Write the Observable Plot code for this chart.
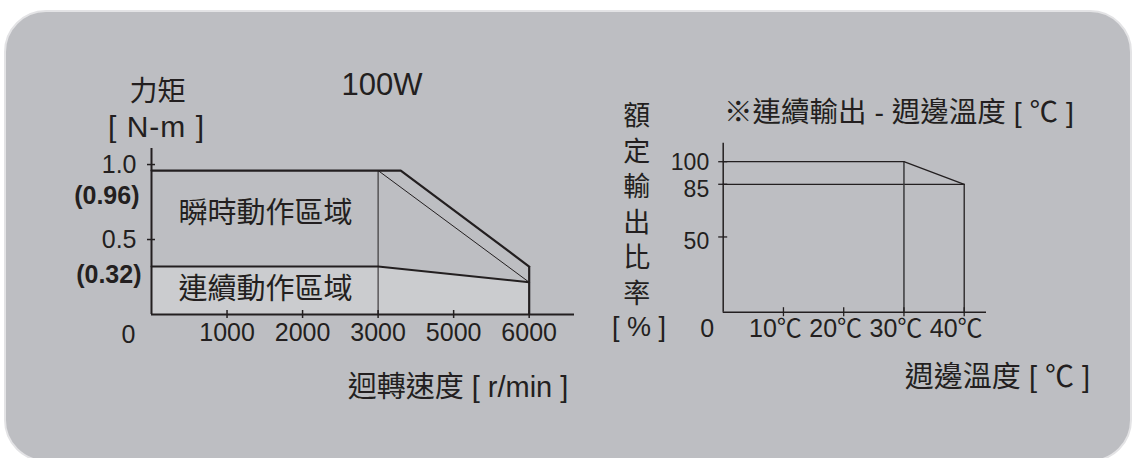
<!DOCTYPE html>
<html>
<head>
<meta charset="utf-8">
<script src="https://cdn.jsdelivr.net/npm/d3@7"></script>
<script src="https://cdn.jsdelivr.net/npm/@observablehq/plot@0.6"></script>
<style>
  body { margin: 0; background: #ffffff; }
  #wrap { position: relative; width: 1133px; height: 458px; overflow: hidden;
          font-family: "Liberation Sans", Arial, "Noto Sans CJK TC", sans-serif; color: #231f20; }
  #panel { position: absolute; left: 4px; top: 10px; width: 1128px; height: 452px; box-sizing: border-box;
           border: 2px solid #e3e3e5; border-radius: 42px; background: #bdbec2; }
  .plot { position: absolute; left: 0; top: 0; }
  .lbl { position: absolute; white-space: nowrap; line-height: 1; transform: translate(-50%, -50%); }
</style>
</head>
<body>
<div id="wrap"><div id="panel"></div></div>
<script>
// ---------- left chart: torque vs speed ----------
const rpmAxisSteps   = [0, 1000, 2000, 3000, 5000, 6000];   // equally spaced on the drawn axis
const rpmTickValues  = [1000, 2000, 3000, 5000, 6000];
const rpmTickLabels  = ["1000", "2000", "3000", "5000", "6000"];
const torqueTickValues = [1.0, 0.5];
const torqueTickLabels = ["1.0", "0.5"];
const peakRpm    = [0, 3600, 6000];
const peakTorque = [0.96, 0.96, 0.32];
const contRpm    = [0, 3000, 6000];
const contTorque = [0.32, 0.32, 0.215];
const zoneLabels = ["瞬時動作區域", "連續動作區域"];
const zoneRpm    = [1510, 1510];
const zoneTorque = [0.67, 0.165];

// ---------- right chart: derating vs ambient temperature ----------
const tempTickValues  = [10, 20, 30, 40];
const tempTickLabels  = ["10℃", "20℃", "30℃", "40℃"];
const ratioTickValues = [100, 85, 50];
const ratioTickLabels = ["100", "85", "50"];
const derateTemp  = [0, 30, 40];
const derateRatio = [100, 100, 85];

const INK = "#231f20";
const LIGHT = "#cbcccf";
const FONT = "'Liberation Sans', Arial, 'Noto Sans CJK TC', sans-serif";
const CJK = "'Noto Sans CJK TC', sans-serif";

const idx = d3.scaleLinear().domain(rpmAxisSteps).range(rpmAxisSteps.map((_, i) => i));
const peak = peakRpm.map((r, i) => ({rpm: r, torque: peakTorque[i]}));
const cont = contRpm.map((r, i) => ({rpm: r, torque: contTorque[i]}));
const zones = zoneLabels.map((t, i) => ({text: t, rpm: zoneRpm[i], torque: zoneTorque[i]}));
const ratedRpm = contRpm[1], maxRpm = contRpm[2];

const left = Plot.plot({
  width: 1133, height: 458,
  marginLeft: 151, marginRight: 559, marginTop: 148, marginBottom: 144,
  x: {domain: [idx(0), idx(6600)], axis: null},
  y: {domain: [0, 1.107], axis: null},
  style: {background: "transparent", overflow: "visible", color: INK, fontFamily: FONT},
  marks: [
    Plot.areaY(cont, {x: d => idx(d.rpm), y1: 0, y2: "torque", fill: LIGHT}),
    Plot.ruleX([ratedRpm], {x: idx, y1: 0, y2: peakTorque[0], stroke: INK, strokeWidth: 1}),
    Plot.link([0], {x1: () => idx(ratedRpm), y1: () => peakTorque[0], x2: () => idx(maxRpm), y2: () => contTorque[2], stroke: INK, strokeWidth: 1}),
    Plot.ruleX([maxRpm], {x: idx, y1: 0, y2: peakTorque[2], stroke: INK, strokeWidth: 2.2}),
    Plot.line(peak, {x: d => idx(d.rpm), y: "torque", stroke: INK, strokeWidth: 2.2}),
    Plot.line(cont, {x: d => idx(d.rpm), y: "torque", stroke: INK, strokeWidth: 2}),
    Plot.ruleX([0], {stroke: INK, strokeWidth: 2}),
    Plot.ruleY([0], {stroke: INK, strokeWidth: 2}),
    Plot.axisX(rpmTickValues.map(idx), {tickSize: 8, dy: -4, tickFormat: () => "", label: null, stroke: INK, strokeWidth: 1.5}),
    Plot.axisY(torqueTickValues, {tickSize: 8, dx: 4, tickFormat: () => "", label: null, stroke: INK, strokeWidth: 1.5}),
    Plot.text(rpmTickValues, {x: idx, frameAnchor: "bottom", dy: 26, text: (d, i) => rpmTickLabels[i], fontSize: 25, fill: INK}),
    Plot.text([0], {x: idx, frameAnchor: "bottom", dy: 28, dx: -23, text: () => "0", fontSize: 25, fill: INK}),
    Plot.text(torqueTickValues, {y: d => d, frameAnchor: "left", textAnchor: "end", dx: -15, text: (d, i) => torqueTickLabels[i], fontSize: 25, fill: INK}),
    Plot.text([peakTorque[0]], {y: d => d, frameAnchor: "left", textAnchor: "end", dx: -12, dy: 25, text: d => `(${d.toFixed(2)})`, fontSize: 25, fontWeight: "bold", fill: INK}),
    Plot.text([contTorque[0]], {y: d => d, frameAnchor: "left", textAnchor: "end", dx: -10, dy: 8, text: d => `(${d.toFixed(2)})`, fontSize: 25, fontWeight: "bold", fill: INK}),
    Plot.text(zones, {x: d => idx(d.rpm), y: "torque", text: "text", fontSize: 29, fill: INK, fontFamily: CJK})
  ]
});
left.classList.add("plot");

const derate = derateTemp.map((t, i) => ({temp: t, ratio: derateRatio[i]}));
const right = Plot.plot({
  width: 1133, height: 458,
  marginLeft: 722.7, marginRight: 147, marginTop: 142.7, marginBottom: 146.3,
  x: {domain: [0, 43.7], axis: null},
  y: {domain: [0, 112.3], axis: null},
  style: {background: "transparent", overflow: "visible", color: INK, fontFamily: FONT},
  marks: [
    Plot.ruleY([derateRatio[2]], {x1: 0, x2: derateTemp[2], stroke: INK, strokeWidth: 1.3}),
    Plot.ruleX([derateTemp[1]], {y1: 0, y2: derateRatio[1], stroke: "#3a3a3c", strokeWidth: 1.5}),
    Plot.ruleX([derateTemp[2]], {y1: 0, y2: derateRatio[2], stroke: INK, strokeWidth: 1.3}),
    Plot.line(derate, {x: "temp", y: "ratio", stroke: INK, strokeWidth: 1.3}),
    Plot.ruleX([0], {stroke: INK, strokeWidth: 1.5}),
    Plot.ruleY([0], {stroke: INK, strokeWidth: 1.5}),
    Plot.axisX(tempTickValues, {tickSize: 9, dy: -4.5, tickFormat: () => "", label: null, stroke: INK, strokeWidth: 1.3}),
    Plot.axisY(ratioTickValues, {tickSize: 9, dx: 4.5, tickFormat: () => "", label: null, stroke: INK, strokeWidth: 1.3}),
    Plot.text(tempTickValues, {x: d => d, frameAnchor: "bottom", dy: 25, dx: -8, text: (d, i) => tempTickLabels[i], fontSize: 25, fill: INK}),
    Plot.text([0], {x: d => d, frameAnchor: "bottom", dy: 25, dx: -16, text: () => "0", fontSize: 25, fill: INK}),
    Plot.text([ratioTickValues[0]], {y: d => d, frameAnchor: "left", textAnchor: "end", dx: -14, dy: 1, text: () => ratioTickLabels[0], fontSize: 23, fill: INK}),
    Plot.text(ratioTickValues.slice(1), {y: d => d, frameAnchor: "left", textAnchor: "end", dx: -14, dy: 5, text: (d, i) => ratioTickLabels[i + 1], fontSize: 23, fill: INK})
  ]
});
right.classList.add("plot");

const wrap = document.getElementById("wrap");
wrap.appendChild(left);
wrap.appendChild(right);

function label(text, cx, cy, size, extra) {
  const d = document.createElement("div");
  d.className = "lbl";
  d.textContent = text;
  d.style.left = cx + "px";
  d.style.top = cy + "px";
  d.style.fontSize = size + "px";
  if (extra) Object.assign(d.style, extra);
  wrap.appendChild(d);
}
label("力矩", 157.5, 92, 28);
label("[ N-m ]", 156.5, 127, 30, {letterSpacing: "1px"});
label("100W", 382, 84, 31);
label("迴轉速度 [ r/min ]", 458, 387, 29);
label("※連續輸出 - 週邊溫度 [ ℃ ]", 899, 112, 28.5);
label("週邊溫度 [ ℃ ]", 997.5, 377, 29);
const vertical = ["額", "定", "輸", "出", "比", "率"];
vertical.forEach((c, i) => label(c, 636.7, 116 + 35.5 * i, 27));
label("[ % ]", 639, 327, 27);
</script>
</body>
</html>
